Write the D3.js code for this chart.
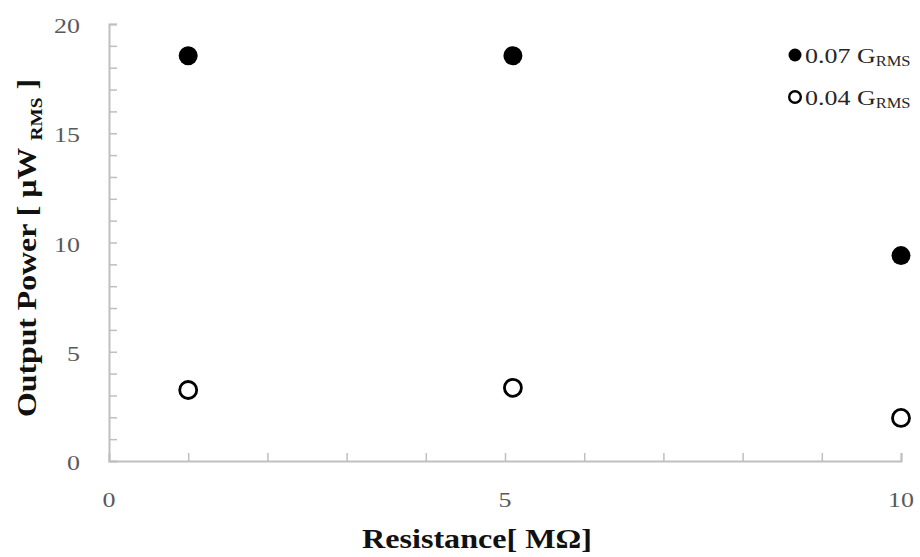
<!DOCTYPE html>
<html>
<head>
<meta charset="utf-8">
<script src="https://cdn.jsdelivr.net/npm/d3@7"></script>
<style>
  body { margin: 0; background: #fff; }
  svg { display: block; }
</style>
</head>
<body>
<svg id="chart" width="920" height="557"></svg>
<script>
// Load resistance (MΩ) and measured output power (µW RMS) at two vibration levels
const resistance = [1, 5.1, 10];
const powerHigh = [18.55, 18.55, 9.4];   // 0.07 G RMS
const powerLow  = [3.25, 3.35, 1.97];    // 0.04 G RMS
const xTickLabels = [0, 5, 10];
const yTickLabels = [0, 5, 10, 15, 20];
const seriesLabels = ["0.07 G", "0.04 G"];

const FONT = "'Liberation Serif', 'Times New Roman', 'DejaVu Serif', serif";
const SX = 1.18; // horizontal widening of the serif glyphs

const svg = d3.select("#chart").attr("font-family", FONT);
const margin = { left: 109, right: 19, top: 24, bottom: 96 };
const W = 920, H = 557;

const x = d3.scaleLinear().domain([0, 10]).range([margin.left, W - margin.right]);
const y = d3.scaleLinear().domain([0, 20]).range([H - margin.bottom, margin.top]);

const axisColor = "#bfbfbf";
const labelColor = "#595959";

// Axes: lines with inward ticks at every unit
const xAxis = d3.axisBottom(x).tickValues(d3.range(0, 11)).tickSize(-8).tickFormat("");
const yAxis = d3.axisLeft(y).tickValues(d3.range(0, 21)).tickSize(-8).tickFormat("");

const gx = svg.append("g").attr("transform", `translate(0,${y(0)})`).call(xAxis);
const gy = svg.append("g").attr("transform", `translate(${x(0)},0)`).call(yAxis);
[gx, gy].forEach(g => {
  g.select(".domain").attr("stroke", axisColor).attr("stroke-width", 2);
  g.selectAll(".tick line").attr("stroke", axisColor).attr("stroke-width", 1.5);
});
// the ticks at 0 sit on the other axis; drop them
gx.selectAll(".tick").filter(d => d === 0).remove();
gy.selectAll(".tick").filter(d => d === 0).remove();

// Tick labels
svg.append("g").selectAll("text").data(xTickLabels).join("text")
  .attr("font-family", FONT)
  .attr("transform", d => `translate(${x(d)},${y(0) + 46}) scale(${SX},1)`)
  .attr("text-anchor", "middle").attr("font-size", 22).attr("fill", labelColor)
  .text(d => d);

svg.append("g").selectAll("text").data(yTickLabels).join("text")
  .attr("font-family", FONT)
  .attr("transform", d => `translate(${x(0) - 29},${y(d) + 9}) scale(${SX},1)`)
  .attr("text-anchor", "end").attr("font-size", 22).attr("fill", labelColor)
  .text(d => d);

// Axis titles
svg.append("text")
  .attr("font-family", FONT)
  .attr("x", 477).attr("y", 548)
  .attr("text-anchor", "middle").attr("font-size", 27).attr("font-weight", "bold").attr("fill", "#111")
  .attr("textLength", 230).attr("lengthAdjust", "spacingAndGlyphs")
  .text("Resistance[ MΩ]");

const yTitle = svg.append("text")
  .attr("font-family", FONT)
  .attr("transform", `translate(36,${248}) rotate(-90)`)
  .attr("text-anchor", "middle").attr("font-size", 28).attr("font-weight", "bold").attr("fill", "#111")
  .attr("textLength", 338).attr("lengthAdjust", "spacingAndGlyphs");
yTitle.append("tspan").text("Output Power [ µW ");
yTitle.append("tspan").attr("font-size", 17).attr("dy", 6).text("RMS");
yTitle.append("tspan").attr("dy", -6).text("  ]");

// Data points
const r = 8.5;
svg.append("g").selectAll("circle").data(resistance.map((d, i) => [d, powerHigh[i]])).join("circle")
  .attr("cx", d => x(d[0])).attr("cy", d => y(d[1])).attr("r", r + 1)
  .attr("fill", "#000");

svg.append("g").selectAll("circle").data(resistance.map((d, i) => [d, powerLow[i]])).join("circle")
  .attr("cx", d => x(d[0])).attr("cy", d => y(d[1])).attr("r", r)
  .attr("fill", "#fff").attr("stroke", "#000").attr("stroke-width", 2.8);

// Legend
const legend = seriesLabels.map((label, i) => ({ label, filled: i === 0 }));
const lg = svg.append("g").selectAll("g").data(legend).join("g")
  .attr("transform", (d, i) => `translate(795,${55 + i * 42})`);
lg.append("circle").attr("r", d => d.filled ? 6.5 : 5.8)
  .attr("fill", d => d.filled ? "#000" : "#fff")
  .attr("stroke", d => d.filled ? "none" : "#000").attr("stroke-width", 2.4);
const lt = lg.append("text").attr("font-family", FONT)
  .attr("transform", `translate(10,8) scale(${SX},1)`)
  .attr("font-size", 22).attr("fill", "#262626");
lt.append("tspan").text(d => d.label);
lt.append("tspan").attr("font-size", 14).attr("dy", 3).text("RMS");
</script>
</body>
</html>
